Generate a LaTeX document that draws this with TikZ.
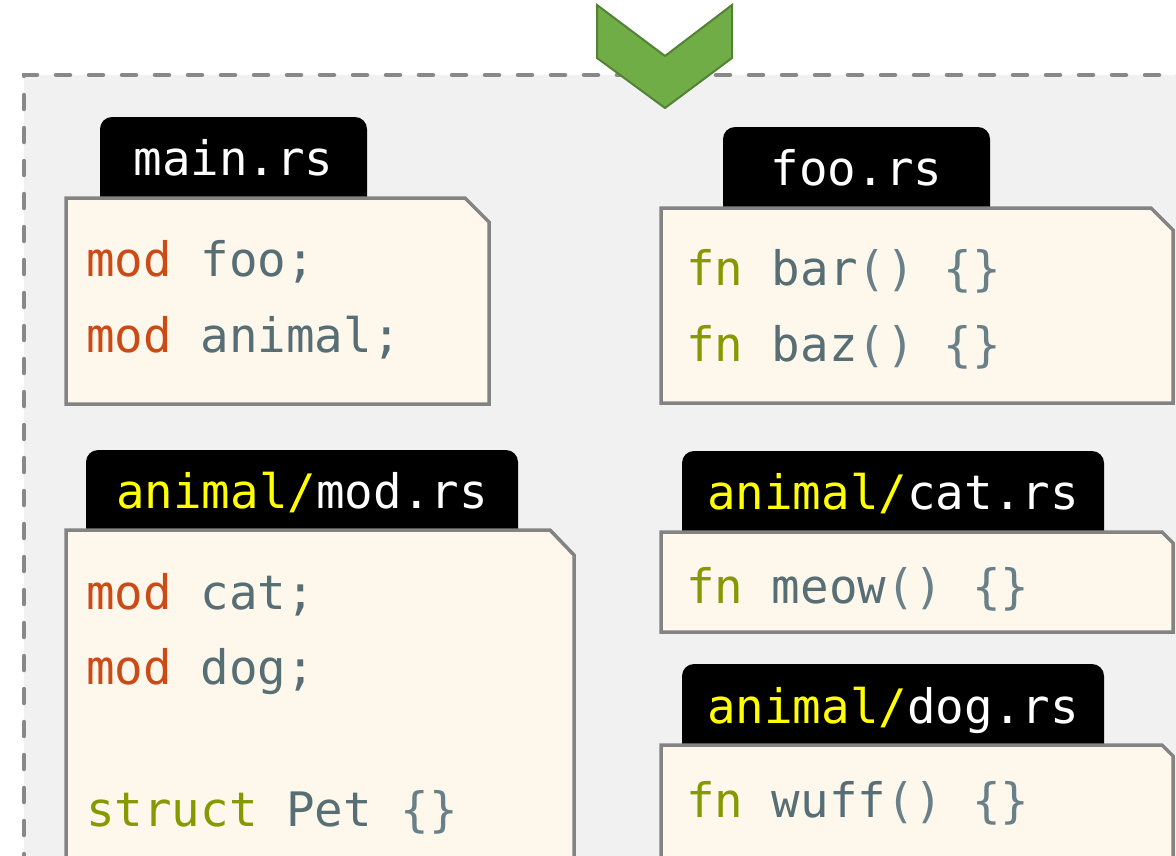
\documentclass[tikz,border=0pt]{standalone}
\usepackage{fontspec}
\newfontfamily\codefont{DejaVu Sans Mono}
\definecolor{bgpanel}{HTML}{F1F1F1}
\definecolor{dashgray}{HTML}{888888}
\definecolor{boxfill}{HTML}{FDF7EC}
\definecolor{boxline}{HTML}{838383}
\definecolor{kwmod}{HTML}{CB4B16}
\definecolor{kwfn}{HTML}{859900}
\definecolor{ident}{HTML}{586E75}
\definecolor{punct}{HTML}{6A8089}
\definecolor{pathyellow}{HTML}{FFFF00}
\definecolor{arrowfill}{HTML}{70AD47}
\definecolor{arrowline}{HTML}{548235}
\newcommand{\kwm}[1]{\textcolor{kwmod}{#1}}
\newcommand{\kwf}[1]{\textcolor{kwfn}{#1}}
\newcommand{\idn}[1]{\textcolor{ident}{#1}}
\newcommand{\pnc}[1]{\textcolor{punct}{#1}}
\newcommand{\ylw}[1]{\textcolor{pathyellow}{#1}}
\tikzset{
  codetext/.style={anchor=base west, inner sep=0pt, font=\codefont\fontsize{47.5}{58}\selectfont},
  tabtext/.style={anchor=base, inner sep=0pt, text=white, font=\codefont\fontsize{47.5}{58}\selectfont},
  tabshape/.style={fill=black, rounded corners=12pt},
  filebox/.style={fill=boxfill, draw=boxline, line width=3.5pt, line join=miter},
  panel/.style={draw=dashgray, line width=4.5pt, dash pattern=on 14pt off 19pt, line cap=round},
  chevron/.style={fill=arrowfill, draw=arrowline, line width=2pt, line join=miter}
}
\begin{document}
\begin{tikzpicture}[x=1pt,y=-1pt]
\useasboundingbox (0,0) rectangle (1176,855);
\clip (0,0) rectangle (1176,855);
\fill[white] (0,0) rectangle (1176,855);
% panel
\fill[bgpanel] (24,75) rectangle (1300,1000);
\draw[panel] (24,1000) -- (24,75) -- (1300,75);
% chevron
\draw[chevron] (597,5) -- (665,56) -- (732,5) -- (732,58) -- (665,108) -- (597,58) -- cycle;

% main.rs
\fill[tabshape] (100,230) -- (100,117) -- (367,117) -- (367,230);
\draw[filebox] (66,198) -- (465,198) -- (489,222) -- (489,404) -- (66,404) -- cycle;
\node[tabtext] (mainname) at (233.5,175) {main.rs};
\node[codetext] (main1) at (86,276) {\kwm{mod} \idn{foo;}};
\node[codetext] (main2) at (86,352) {\kwm{mod} \idn{animal;}};

% foo.rs
\fill[tabshape] (723,240) -- (723,127) -- (990,127) -- (990,240);
\draw[filebox] (661,208) -- (1151,208) -- (1173,230) -- (1173,403) -- (661,403) -- cycle;
\node[tabtext] (fooname) at (856.5,185) {foo.rs};
\node[codetext] (foo1) at (686,285) {\kwf{fn} \idn{bar}\pnc{() \{\}}};
\node[codetext] (foo2) at (686,361) {\kwf{fn} \idn{baz}\pnc{() \{\}}};

% animal/mod.rs
\fill[tabshape] (86,560) -- (86,450) -- (518,450) -- (518,560);
\draw[filebox] (66,530) -- (550,530) -- (574,555) -- (574,950) -- (66,950) -- cycle;
\node[tabtext] (modname) at (302,508) {\ylw{animal/}mod.rs};
\node[codetext] (mod1) at (86,609) {\kwm{mod} \idn{cat;}};
\node[codetext] (mod2) at (86,684) {\kwm{mod} \idn{dog;}};
\node[codetext] (mod3) at (86,826) {\kwf{struct} \idn{Pet} \pnc{\{\}}};

% animal/cat.rs
\fill[tabshape] (682,560) -- (682,451) -- (1104,451) -- (1104,560);
\draw[filebox] (661,532) -- (1162,532) -- (1173,543) -- (1173,632) -- (661,632) -- cycle;
\node[tabtext] (catname) at (893,509) {\ylw{animal/}cat.rs};
\node[codetext] (cat1) at (686,603) {\kwf{fn} \idn{meow}\pnc{() \{\}}};

% animal/dog.rs
\fill[tabshape] (682,775) -- (682,664) -- (1104,664) -- (1104,775);
\draw[filebox] (661,745) -- (1162,745) -- (1173,756) -- (1173,950) -- (661,950) -- cycle;
\node[tabtext] (dogname) at (893,723) {\ylw{animal/}dog.rs};
\node[codetext] (dog1) at (686,817) {\kwf{fn} \idn{wuff}\pnc{() \{\}}};
\end{tikzpicture}
\end{document}
